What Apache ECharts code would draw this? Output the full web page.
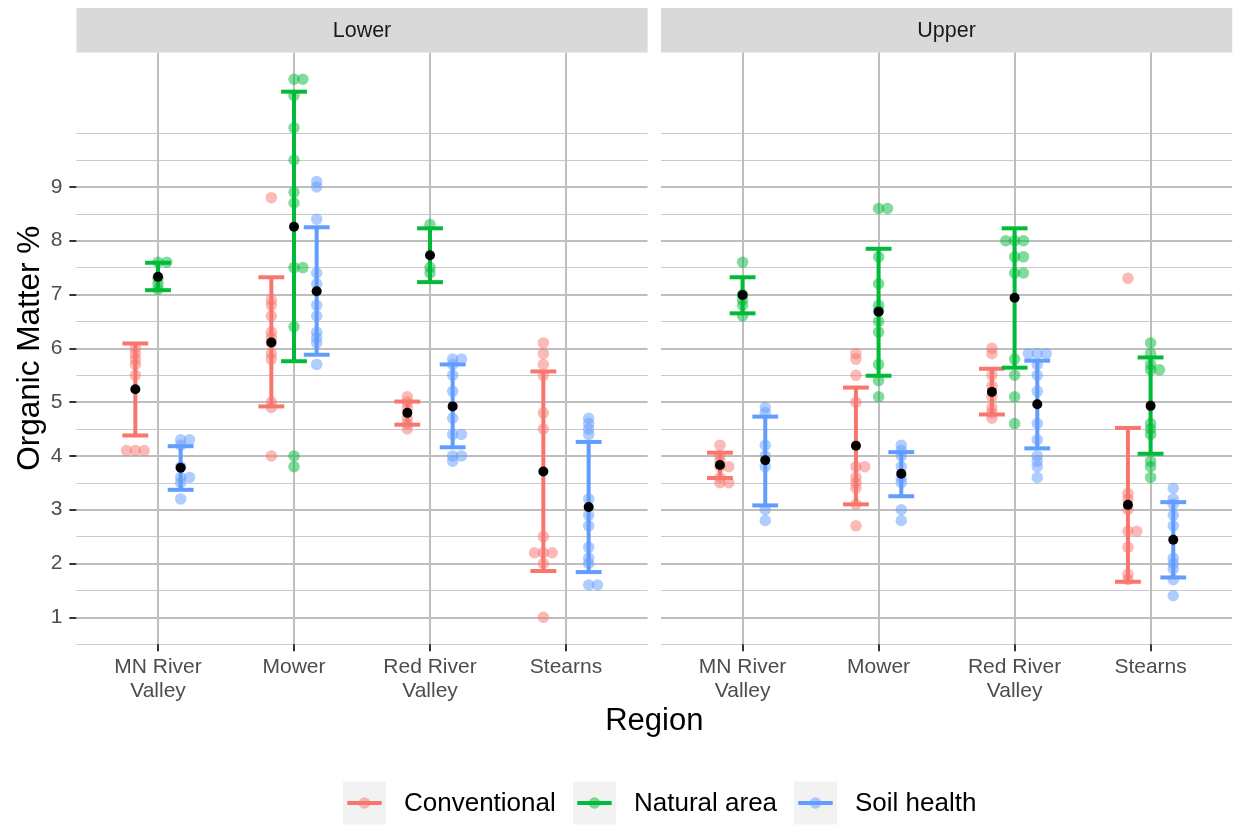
<!DOCTYPE html>
<html>
<head>
<meta charset="utf-8">
<script src="https://cdn.jsdelivr.net/npm/echarts@6.0.0/dist/echarts.min.js"></script>
<style>
  html, body { margin: 0; padding: 0; background: #ffffff; }
  #chart { width: 1236px; height: 825px; }
</style>
</head>
<body>
<div id="chart"></div>
<script>
// ---- categories ----
const regions = ['MN River Valley', 'Mower', 'Red River Valley', 'Stearns'];
const regionLabels = ['MN River\nValley', 'Mower', 'Red River\nValley', 'Stearns'];
const panels = ['Lower', 'Upper'];
const treatments = ['Conventional', 'Natural area', 'Soil health'];
const yMajorTicks = [1, 2, 3, 4, 5, 6, 7, 8, 9];
const yMinorTicks = [0.5, 1.5, 2.5, 3.5, 4.5, 5.5, 6.5, 7.5, 8.5, 9.5, 10];

// ---- individual samples (organic matter %), one list per region ----
const lowerConventional = [
  [6.0, 5.9, 5.8, 5.7, 5.5, 4.1, 4.1, 4.1],
  [8.8, 6.9, 6.8, 6.6, 6.3, 6.2, 6.1, 5.9, 5.8, 5.0, 4.9, 4.0],
  [5.1, 5.0, 4.9, 4.7, 4.6, 4.5],
  [6.1, 5.9, 5.7, 5.5, 4.8, 4.5, 2.5, 2.2, 2.2, 2.2, 2.0, 1.0]
];
const lowerNatural = [
  [7.6, 7.6, 7.3, 7.2, 7.1],
  [11.0, 11.0, 10.7, 10.1, 9.5, 8.9, 8.7, 7.5, 7.5, 6.4, 4.0, 3.8],
  [8.3, 7.5, 7.4],
  []
];
const lowerSoilHealth = [
  [4.3, 4.3, 4.2, 3.8, 3.6, 3.6, 3.5, 3.2],
  [9.1, 9.0, 8.4, 7.4, 7.2, 6.8, 6.6, 6.3, 6.2, 6.1, 5.7],
  [5.8, 5.8, 5.7, 5.5, 5.2, 4.7, 4.4, 4.4, 4.0, 4.0, 3.9],
  [4.7, 4.6, 4.5, 4.4, 3.2, 2.9, 2.7, 2.3, 2.1, 2.0, 1.6, 1.6]
];
const upperConventional = [
  [4.2, 4.0, 3.9, 3.8, 3.8, 3.6, 3.5, 3.5],
  [5.9, 5.8, 5.5, 5.0, 3.8, 3.8, 3.6, 3.5, 3.4, 3.1, 2.7],
  [6.0, 5.9, 5.5, 5.3, 5.1, 4.9, 4.8, 4.7],
  [7.3, 3.3, 3.2, 3.0, 2.6, 2.6, 2.3, 1.8, 1.7]
];
const upperNatural = [
  [7.6, 7.0, 6.9, 6.8, 6.6],
  [8.6, 8.6, 7.7, 7.2, 6.8, 6.7, 6.5, 6.3, 5.7, 5.4, 5.1],
  [8.0, 8.0, 8.0, 7.7, 7.7, 7.4, 7.4, 5.8, 5.5, 5.1, 4.6],
  [6.1, 5.9, 5.7, 5.6, 5.6, 4.6, 4.5, 4.4, 3.9, 3.8, 3.6]
];
const upperSoilHealth = [
  [4.9, 4.8, 4.2, 4.0, 3.8, 3.0, 2.8],
  [4.2, 4.1, 4.0, 3.8, 3.6, 3.5, 3.0, 2.8],
  [5.9, 5.9, 5.9, 5.7, 5.5, 5.2, 4.6, 4.3, 4.0, 3.9, 3.8, 3.6],
  [3.4, 3.2, 3.1, 2.9, 2.7, 2.1, 2.0, 1.9, 1.7, 1.4]
];

// ---- group summaries: mean and error-bar ends, rows = treatments, columns = regions ----
const lowerMean = [
  [5.24, 6.11, 4.80, 3.71],
  [7.33, 8.26, 7.73, null],
  [3.78, 7.06, 4.92, 3.05]
];
const lowerLow = [
  [4.38, 4.92, 4.58, 1.86],
  [7.08, 5.76, 7.23, null],
  [3.37, 5.88, 4.16, 1.84]
];
const lowerHigh = [
  [6.09, 7.32, 5.01, 5.57],
  [7.59, 10.77, 8.23, null],
  [4.18, 8.25, 5.70, 4.26]
];
const upperMean = [
  [3.83, 4.19, 5.19, 3.09],
  [6.99, 6.68, 6.94, 4.93],
  [3.92, 3.67, 4.96, 2.44]
];
const upperLow = [
  [3.59, 3.10, 4.77, 1.66],
  [6.65, 5.49, 5.64, 4.04],
  [3.08, 3.25, 4.14, 1.74]
];
const upperHigh = [
  [4.06, 5.27, 5.62, 4.52],
  [7.32, 7.85, 8.23, 5.83],
  [4.73, 4.07, 5.77, 3.14]
];

// ---- styling ----
const FONT = '"Liberation Sans", Arial, Helvetica, sans-serif';
const COLORS = ['#F8766D', '#00BA38', '#619CFF'];
const DODGE = [-1 / 6, 0, 1 / 6];
const CAP_WIDTH = 0.19;
const PANEL_TOP = 52.4;
const PANEL_H = 591.8;
const PANEL_W = 571.2;
const PANEL_LEFT = [76.4, 661];
const STRIP_TOP = 8;

const panelSamples = [
  [lowerConventional, lowerNatural, lowerSoilHealth],
  [upperConventional, upperNatural, upperSoilHealth]
];
const panelMean = [lowerMean, upperMean];
const panelLow = [lowerLow, upperLow];
const panelHigh = [lowerHigh, upperHigh];

// small horizontal spread so coincident samples stay visible
const spread = [0, 0.065, -0.065, 0.12, -0.12];
function jitteredPoints(lists, t) {
  const out = [];
  lists.forEach((vals, r) => {
    const seen = {};
    vals.forEach(v => {
      const k = v.toFixed(2);
      const n = seen[k] || 0;
      seen[k] = n + 1;
      out.push([r + 1 + DODGE[t] + spread[n % spread.length], v]);
    });
  });
  return out;
}

function errorBarRenderer(color) {
  return function (params, api) {
    const x = api.value(0);
    const top = api.coord([x, api.value(2)]);
    const bot = api.coord([x, api.value(1)]);
    const half = api.size([CAP_WIDTH, 0])[0] / 2;
    const style = { stroke: color, lineWidth: 4, fill: null };
    return {
      type: 'group',
      children: [
        { type: 'line', shape: { x1: top[0], y1: top[1], x2: bot[0], y2: bot[1] }, style },
        { type: 'line', shape: { x1: top[0] - half, y1: top[1], x2: top[0] + half, y2: top[1] }, style },
        { type: 'line', shape: { x1: bot[0] - half, y1: bot[1], x2: bot[0] + half, y2: bot[1] }, style }
      ]
    };
  };
}

const grids = [];
const xAxes = [];
const yAxes = [];
const series = [];
const graphics = [];

panels.forEach((name, p) => {
  grids.push({
    left: PANEL_LEFT[p], top: PANEL_TOP, width: PANEL_W, height: PANEL_H,
    outerBoundsMode: 'none', containLabel: false
  });
  xAxes.push({
    type: 'value', gridIndex: p, min: 0.4, max: 4.6,
    axisLine: { show: false },
    axisTick: { show: true, customValues: [1, 2, 3, 4], length: 7, lineStyle: { color: '#333333', width: 2 } },
    axisLabel: {
      customValues: [1, 2, 3, 4],
      formatter: v => regionLabels[Math.round(v) - 1],
      color: '#4D4D4D', fontSize: 21, lineHeight: 24, margin: 11, fontFamily: FONT
    },
    splitLine: { show: true, lineStyle: { color: '#BEBEBE', width: 2 } }
  });
  // major grid + left ticks
  yAxes.push({
    type: 'value', gridIndex: p, min: 0.5, max: 11.5, position: 'left',
    axisLine: { show: false },
    axisTick: { show: p === 0, customValues: yMajorTicks, length: 7, lineStyle: { color: '#333333', width: 2 } },
    axisLabel: {
      show: p === 0, customValues: yMajorTicks,
      color: '#4D4D4D', fontSize: 21, margin: 14, fontFamily: FONT
    },
    splitLine: { show: true, lineStyle: { color: '#BEBEBE', width: 2 } }
  });
});
// minor horizontal grid
panels.forEach((name, p) => {
  yAxes.push({
    type: 'value', gridIndex: p, min: 0.5, max: 11.5, position: 'right',
    axisLine: { show: false },
    axisTick: { show: false, customValues: yMinorTicks },
    axisLabel: { show: false, customValues: yMinorTicks },
    splitLine: { show: true, lineStyle: { color: '#C9C9C9', width: 1.1 } }
  });
});

panels.forEach((name, p) => {
  // individual samples
  treatments.forEach((tr, t) => {
    series.push({
      name: tr, type: 'scatter', xAxisIndex: p, yAxisIndex: p,
      data: jitteredPoints(panelSamples[p][t], t),
      symbol: 'circle', symbolSize: 11.5,
      itemStyle: { color: COLORS[t], opacity: 0.5 },
      silent: true, z: 2
    });
  });
  // error bars
  treatments.forEach((tr, t) => {
    const data = [];
    regions.forEach((rg, r) => {
      if (panelMean[p][t][r] != null) {
        data.push([r + 1 + DODGE[t], panelLow[p][t][r], panelHigh[p][t][r]]);
      }
    });
    series.push({
      name: tr, type: 'custom', xAxisIndex: p, yAxisIndex: p,
      renderItem: errorBarRenderer(COLORS[t]),
      encode: { x: 0, y: [1, 2] },
      data, silent: true, z: 3
    });
  });
  // group means
  treatments.forEach((tr, t) => {
    const data = [];
    regions.forEach((rg, r) => {
      if (panelMean[p][t][r] != null) data.push([r + 1 + DODGE[t], panelMean[p][t][r]]);
    });
    series.push({
      name: tr + ' mean', type: 'scatter', xAxisIndex: p, yAxisIndex: p,
      data, symbol: 'circle', symbolSize: 10,
      itemStyle: { color: '#000000', opacity: 1 },
      silent: true, z: 4
    });
  });

  // facet strip
  graphics.push({
    type: 'rect', silent: true,
    shape: { x: PANEL_LEFT[p], y: STRIP_TOP, width: PANEL_W, height: PANEL_TOP - STRIP_TOP },
    style: { fill: '#D9D9D9' }
  });
  graphics.push({
    type: 'text', silent: true,
    x: PANEL_LEFT[p] + PANEL_W / 2, y: (STRIP_TOP + PANEL_TOP) / 2 + 1,
    style: { text: name, font: '21.5px ' + FONT, fill: '#1A1A1A', align: 'center', verticalAlign: 'middle' }
  });
});

// axis titles
graphics.push({
  type: 'text', silent: true, x: 30, y: PANEL_TOP + PANEL_H / 2, rotation: Math.PI / 2,
  style: { text: 'Organic Matter %', font: '31.5px ' + FONT, fill: '#000000', align: 'center', verticalAlign: 'middle' }
});
graphics.push({
  type: 'text', silent: true, x: (PANEL_LEFT[0] + PANEL_LEFT[1] + PANEL_W) / 2, y: 721,
  style: { text: 'Region', font: '31px ' + FONT, fill: '#000000', align: 'center', verticalAlign: 'middle' }
});

// legend
const legendKeyX = [343, 573, 794];
const KEY = 43;
const legendMidY = 803;
treatments.forEach((tr, t) => {
  const kx = legendKeyX[t];
  graphics.push({
    type: 'rect', silent: true,
    shape: { x: kx, y: legendMidY - KEY / 2, width: KEY, height: KEY },
    style: { fill: '#F2F2F2' }
  });
  graphics.push({
    type: 'line', silent: true,
    shape: { x1: kx + 4.3, y1: legendMidY, x2: kx + KEY - 4.3, y2: legendMidY },
    style: { stroke: COLORS[t], lineWidth: 4 }
  });
  graphics.push({
    type: 'circle', silent: true,
    shape: { cx: kx + KEY / 2, cy: legendMidY, r: 5.75 },
    style: { fill: COLORS[t], opacity: 0.5 }
  });
  graphics.push({
    type: 'text', silent: true, x: kx + 61, y: legendMidY + 1,
    style: { text: tr, font: '26px ' + FONT, fill: '#000000', align: 'left', verticalAlign: 'middle' }
  });
});

const chart = echarts.init(document.getElementById('chart'), null, { renderer: 'canvas' });
chart.setOption({
  backgroundColor: '#ffffff',
  animation: false,
  grid: grids,
  xAxis: xAxes,
  yAxis: yAxes,
  series: series,
  graphic: graphics
});
</script>
</body>
</html>
